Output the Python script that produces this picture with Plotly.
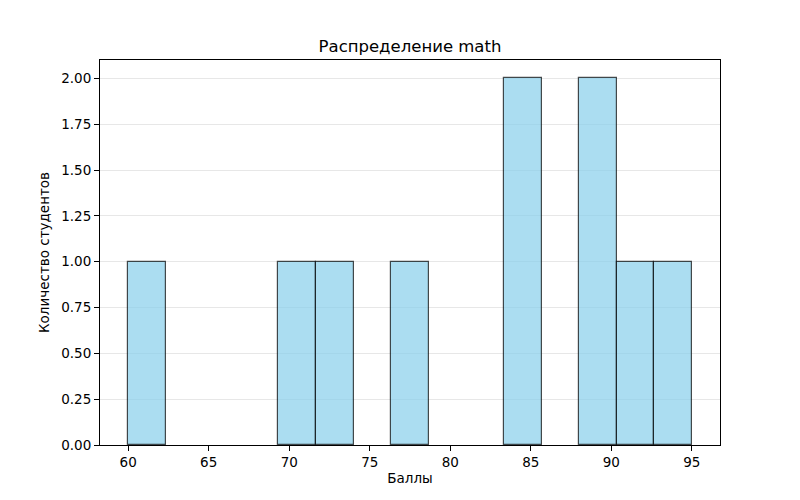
import plotly.graph_objects as go

bin_start = 60.0
bin_end = 95.0
n_bins = 15
bin_counts = [1, 0, 0, 0, 1, 1, 0, 1, 0, 0, 2, 0, 2, 1, 1]
x_ticks = [60, 65, 70, 75, 80, 85, 90, 95]
y_ticks = [0.0, 0.25, 0.5, 0.75, 1.0, 1.25, 1.5, 1.75, 2.0]

width = (bin_end - bin_start) / n_bins
centers = [bin_start + width * (i + 0.5) for i in range(n_bins)]
xs = [c for c, n in zip(centers, bin_counts) if n > 0]
ys = [n for n in bin_counts if n > 0]

fig = go.Figure()
fig.add_trace(go.Bar(
    x=xs, y=ys, width=[width] * len(xs),
    marker=dict(color="rgba(135,206,235,0.7)",
                line=dict(color="rgba(0,0,0,0.7)", width=1.2)),
    hoverinfo="x+y",
))

font = "DejaVu Sans"
# page body has 8px default margin; compensate
fig.update_layout(
    width=800, height=500,
    margin=dict(l=92, r=88, t=52, b=63),
    paper_bgcolor="white", plot_bgcolor="white",
    font=dict(family=font, size=14, color="black"),
    title=dict(text="Распределение math", x=(410 - 8) / 800, xanchor="center",
               y=1 - 38 / 500, yanchor="middle",
               font=dict(family=font, size=16.5, color="black")),
    showlegend=False,
    bargap=0,
)
margin = (bin_end - bin_start) * 0.05
fig.update_xaxes(
    range=[bin_start - margin, bin_end + margin],
    tickvals=x_ticks, ticktext=[str(t) for t in x_ticks],
    ticks="outside", ticklen=5, tickwidth=1, tickcolor="black",
    showline=True, linecolor="black", linewidth=1, mirror=True,
    showgrid=False, zeroline=False,
    title=dict(text="Баллы", font=dict(family=font, size=13.5), standoff=4),
    tickfont=dict(size=13.5),
)
fig.update_yaxes(
    range=[0, 2.1],
    tickvals=y_ticks, ticktext=[f"{t:.2f}" for t in y_ticks],
    ticks="outside", ticklen=5, tickwidth=1, tickcolor="black",
    showline=True, linecolor="black", linewidth=1, mirror=True,
    showgrid=True, gridcolor="rgba(176,176,176,0.3)", gridwidth=1,
    zeroline=False,
    title=dict(text="Количество студентов", font=dict(family=font, size=13.5), standoff=8),
    tickfont=dict(size=13.5),
)

fig.write_html("out.html")
